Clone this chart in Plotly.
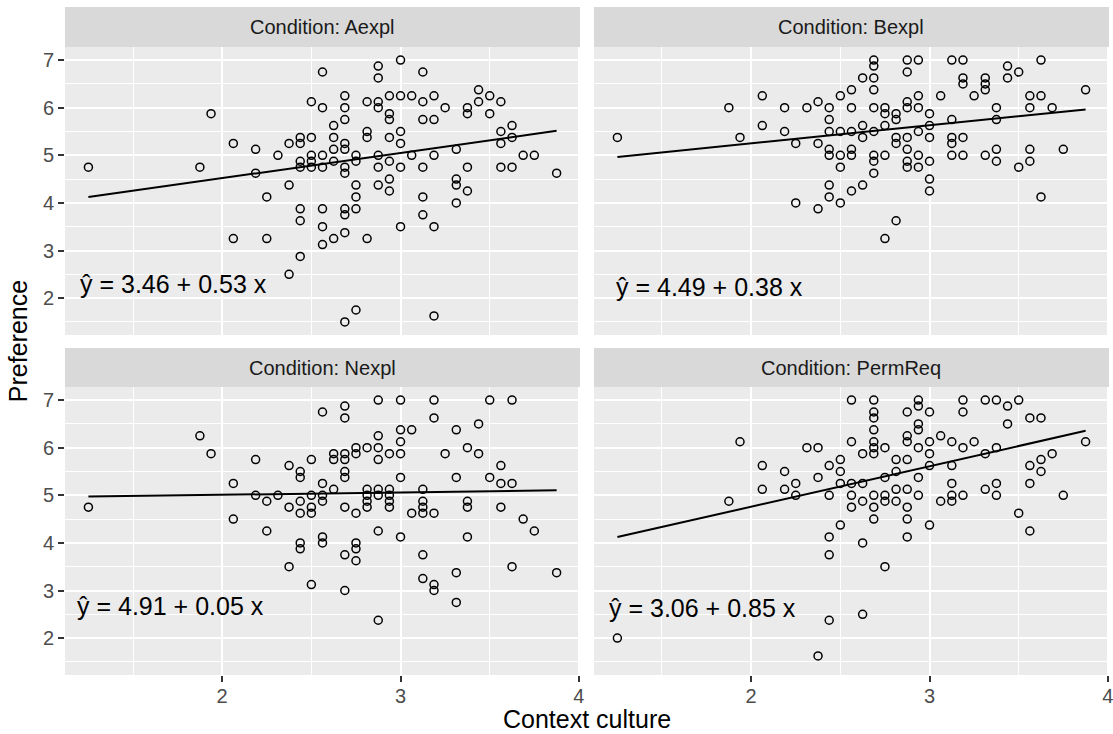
import numpy as np
import plotly.graph_objects as go

conditions = ["Aexpl", "Bexpl", "Nexpl", "PermReq"]
intercepts = [3.46, 4.49, 4.91, 3.06]
slopes = [0.53, 0.38, 0.05, 0.85]
x_ticks = [2, 3, 4]
y_ticks = [2, 3, 4, 5, 6, 7]

aexpl_x = [1.25, 1.875, 1.9375, 2.0625, 2.0625, 2.1875, 2.1875, 2.25, 2.25, 2.3125,
           2.375, 2.375, 2.375,
           2.4375, 2.4375, 2.4375, 2.4375, 2.4375, 2.4375, 2.4375,
           2.5, 2.5, 2.5, 2.5, 2.5,
           2.5625, 2.5625, 2.5625, 2.5625, 2.5625, 2.5625, 2.5625,
           2.625, 2.625, 2.625, 2.625, 2.625,
           2.6875, 2.6875, 2.6875, 2.6875, 2.6875, 2.6875, 2.6875, 2.6875, 2.6875, 2.6875, 2.6875,
           2.75, 2.75, 2.75, 2.75, 2.75, 2.75,
           2.8125, 2.8125, 2.8125, 2.8125,
           2.875, 2.875, 2.875, 2.875, 2.875, 2.875, 2.875,
           2.9375, 2.9375, 2.9375, 2.9375, 2.9375, 2.9375, 2.9375,
           3.0, 3.0, 3.0, 3.0, 3.0, 3.0,
           3.0625, 3.0625,
           3.125, 3.125, 3.125, 3.125, 3.125, 3.125,
           3.1875, 3.1875, 3.1875, 3.1875, 3.1875,
           3.25,
           3.3125, 3.3125, 3.3125, 3.3125,
           3.375, 3.375, 3.375, 3.375,
           3.4375, 3.4375,
           3.5, 3.5,
           3.5625, 3.5625, 3.5625, 3.5625,
           3.625, 3.625, 3.625,
           3.6875, 3.75, 3.875]
aexpl_y = [4.75, 4.75, 5.875, 5.25, 3.25, 5.125, 4.625, 4.125, 3.25, 5.0,
           5.25, 4.375, 2.5,
           5.375, 5.25, 4.875, 4.75, 3.875, 3.625, 2.875,
           6.125, 5.375, 5.0, 4.875, 4.75,
           6.75, 6.0, 5.0, 4.75, 3.875, 3.5, 3.125,
           5.625, 5.375, 5.125, 4.875, 3.25,
           6.25, 6.0, 5.75, 5.25, 5.125, 4.75, 4.625, 3.875, 3.75, 3.375, 1.5,
           5.0, 4.875, 4.375, 4.125, 3.875, 1.75,
           6.125, 5.5, 5.375, 3.25,
           6.875, 6.625, 6.125, 6.0, 5.0, 4.75, 4.375,
           6.25, 5.875, 5.75, 5.375, 4.875, 4.5, 4.25,
           7.0, 6.25, 5.5, 5.25, 4.75, 3.5,
           6.25, 5.0,
           6.75, 6.125, 5.75, 4.75, 4.125, 3.75,
           6.25, 5.75, 5.0, 3.5, 1.625,
           6.0,
           5.125, 4.5, 4.375, 4.0,
           6.0, 5.875, 4.75, 4.25,
           6.375, 6.125,
           6.25, 5.875,
           6.125, 5.5, 5.25, 4.75,
           5.625, 5.375, 4.75,
           5.0, 5.0, 4.625]

bexpl_x = [1.25, 1.875, 1.9375, 2.0625, 2.0625, 2.1875, 2.1875, 2.25, 2.25, 2.3125,
           2.375, 2.375, 2.375,
           2.4375, 2.4375, 2.4375, 2.4375, 2.4375, 2.4375, 2.4375,
           2.5, 2.5, 2.5, 2.5, 2.5,
           2.5625, 2.5625, 2.5625, 2.5625, 2.5625, 2.5625,
           2.625, 2.625, 2.625, 2.625,
           2.6875, 2.6875, 2.6875, 2.6875, 2.6875, 2.6875, 2.6875, 2.6875, 2.6875,
           2.75, 2.75, 2.75, 2.75, 2.75,
           2.8125, 2.8125, 2.8125, 2.8125, 2.8125,
           2.875, 2.875, 2.875, 2.875, 2.875, 2.875, 2.875, 2.875,
           2.9375, 2.9375, 2.9375, 2.9375, 2.9375, 2.9375,
           3.0, 3.0, 3.0, 3.0, 3.0, 3.0,
           3.0625,
           3.125, 3.125, 3.125, 3.125, 3.125,
           3.1875, 3.1875, 3.1875, 3.1875, 3.1875,
           3.25,
           3.3125, 3.3125, 3.3125, 3.3125,
           3.375, 3.375, 3.375, 3.375,
           3.4375, 3.4375,
           3.5, 3.5,
           3.5625, 3.5625, 3.5625, 3.5625,
           3.625, 3.625, 3.625,
           3.6875, 3.75, 3.875]
bexpl_y = [5.375, 6.0, 5.375, 6.25, 5.625, 6.0, 5.5, 5.25, 4.0, 6.0,
           6.125, 5.25, 3.875,
           6.0, 5.75, 5.5, 5.125, 5.0, 4.375, 4.125,
           6.25, 5.5, 5.0, 4.75, 4.0,
           6.375, 6.0, 5.5, 5.125, 5.0, 4.25,
           6.625, 5.625, 5.375, 4.375,
           7.0, 6.875, 6.625, 6.375, 6.0, 5.5, 5.0, 4.875, 4.625,
           6.0, 5.875, 5.625, 5.0, 3.25,
           5.875, 5.75, 5.375, 5.25, 3.625,
           7.0, 6.75, 6.125, 6.0, 5.375, 5.125, 4.875, 4.75,
           7.0, 6.25, 6.0, 5.5, 5.0, 4.75,
           5.875, 5.625, 5.375, 4.875, 4.5, 4.25,
           6.25,
           7.0, 5.75, 5.375, 5.25, 5.0,
           7.0, 6.625, 6.5, 5.375, 5.0,
           6.25,
           6.625, 6.5, 6.375, 5.0,
           6.0, 5.75, 5.125, 4.875,
           6.875, 6.625,
           6.75, 4.75,
           6.25, 6.0, 5.125, 4.875,
           7.0, 6.25, 4.125,
           6.0, 5.125, 6.375]

nexpl_x = [1.25, 1.875, 1.9375, 2.0625, 2.0625, 2.1875, 2.1875, 2.25, 2.25, 2.3125,
           2.375, 2.375, 2.375,
           2.4375, 2.4375, 2.4375, 2.4375, 2.4375, 2.4375,
           2.5, 2.5, 2.5, 2.5, 2.5,
           2.5625, 2.5625, 2.5625, 2.5625, 2.5625, 2.5625,
           2.625, 2.625, 2.625,
           2.6875, 2.6875, 2.6875, 2.6875, 2.6875, 2.6875, 2.6875, 2.6875, 2.6875,
           2.75, 2.75, 2.75, 2.75, 2.75, 2.75,
           2.8125, 2.8125, 2.8125, 2.8125, 2.8125,
           2.875, 2.875, 2.875, 2.875, 2.875, 2.875, 2.875, 2.875,
           2.9375, 2.9375, 2.9375, 2.9375, 2.9375,
           3.0, 3.0, 3.0, 3.0, 3.0, 3.0,
           3.0625, 3.0625,
           3.125, 3.125, 3.125, 3.125, 3.125, 3.125,
           3.1875, 3.1875, 3.1875, 3.1875, 3.1875,
           3.25,
           3.3125, 3.3125, 3.3125, 3.3125,
           3.375, 3.375, 3.375, 3.375,
           3.4375, 3.4375,
           3.5, 3.5,
           3.5625, 3.5625, 3.5625,
           3.625, 3.625, 3.625,
           3.6875, 3.75, 3.875]
nexpl_y = [4.75, 6.25, 5.875, 5.25, 4.5, 5.75, 5.0, 4.875, 4.25, 5.0,
           5.625, 4.75, 3.5,
           5.5, 5.375, 4.875, 4.625, 4.0, 3.875,
           5.75, 5.0, 4.75, 4.625, 3.125,
           6.75, 5.25, 5.0, 4.875, 4.125, 4.0,
           5.875, 5.75, 5.125,
           6.875, 6.625, 5.875, 5.75, 5.5, 5.375, 4.75, 3.75, 3.0,
           6.0, 5.875, 4.625, 4.0, 3.875, 3.625,
           6.0, 5.125, 5.0, 4.875, 4.75,
           7.0, 6.25, 6.0, 5.75, 5.125, 5.0, 4.25, 2.375,
           5.875, 5.125, 5.0, 4.875, 4.75,
           7.0, 6.375, 6.125, 5.875, 5.375, 4.125,
           6.375, 4.625,
           5.125, 4.875, 4.75, 4.625, 3.75, 3.25,
           7.0, 6.625, 4.625, 3.125, 3.0,
           5.875,
           6.375, 5.375, 3.375, 2.75,
           6.0, 4.875, 4.75, 4.125,
           6.5, 5.875,
           7.0, 5.375,
           5.625, 5.25, 4.75,
           7.0, 5.25, 3.5,
           4.5, 4.25, 3.375]

permreq_x = [1.25, 1.875, 1.9375, 2.0625, 2.0625, 2.1875, 2.1875, 2.25, 2.25, 2.3125,
             2.375, 2.375, 2.375,
             2.4375, 2.4375, 2.4375, 2.4375, 2.4375,
             2.5, 2.5, 2.5, 2.5,
             2.5625, 2.5625, 2.5625, 2.5625, 2.5625,
             2.625, 2.625, 2.625, 2.625, 2.625,
             2.6875, 2.6875, 2.6875, 2.6875, 2.6875, 2.6875, 2.6875, 2.6875, 2.6875, 2.6875,
             2.75, 2.75, 2.75, 2.75, 2.75,
             2.8125, 2.8125, 2.8125, 2.8125,
             2.875, 2.875, 2.875, 2.875, 2.875, 2.875, 2.875, 2.875,
             2.9375, 2.9375, 2.9375, 2.9375, 2.9375, 2.9375, 2.9375,
             3.0, 3.0, 3.0, 3.0, 3.0,
             3.0625, 3.0625,
             3.125, 3.125, 3.125, 3.125, 3.125,
             3.1875, 3.1875, 3.1875, 3.1875,
             3.25,
             3.3125, 3.3125, 3.3125,
             3.375, 3.375, 3.375, 3.375,
             3.4375, 3.4375,
             3.5, 3.5,
             3.5625, 3.5625, 3.5625, 3.5625,
             3.625, 3.625, 3.625,
             3.6875, 3.75, 3.875]
permreq_y = [2.0, 4.875, 6.125, 5.625, 5.125, 5.5, 5.125, 5.25, 5.0, 6.0,
             6.0, 5.375, 1.625,
             5.625, 5.0, 4.125, 3.75, 2.375,
             5.75, 5.5, 5.25, 4.375,
             7.0, 6.125, 5.25, 5.0, 4.75,
             5.875, 5.25, 4.875, 4.0, 2.5,
             7.0, 6.75, 6.625, 6.375, 6.125, 6.0, 5.875, 5.0, 4.75, 4.5,
             6.0, 5.375, 5.0, 4.875, 3.5,
             5.75, 5.5, 5.125, 4.875,
             6.75, 6.25, 6.125, 5.75, 5.125, 4.75, 4.5, 4.125,
             7.0, 6.875, 6.5, 6.375, 6.0, 5.375, 5.0,
             6.75, 6.125, 5.875, 5.625, 4.375,
             6.25, 4.875,
             6.125, 5.625, 5.25, 5.0, 4.875,
             7.0, 6.75, 6.0, 5.0,
             6.125,
             7.0, 5.875, 5.125,
             7.0, 6.0, 5.25, 5.0,
             6.875, 6.5,
             7.0, 4.625,
             6.625, 5.625, 5.25, 4.25,
             6.625, 5.75, 5.5,
             5.875, 5.0, 6.125]

# equation label positions (data units) per panel
label_x = [1.19, 1.232, 1.175, 1.189]
label_y = [2.29, 2.23, 2.67, 2.63]

xs = [aexpl_x, bexpl_x, nexpl_x, permreq_x]
ys = [aexpl_y, bexpl_y, nexpl_y, permreq_y]

# ggplot-like 5% expansion of shared scales
allx = np.concatenate([np.array(v) for v in xs])
ally = np.concatenate([np.array(v) for v in ys])
xr = [allx.min() - 0.05 * (allx.max() - allx.min()), allx.max() + 0.05 * (allx.max() - allx.min())]
yr = [ally.min() - 0.05 * (ally.max() - ally.min()), ally.max() + 0.05 * (ally.max() - ally.min())]

W, H = 1113, 734
ML, MR, MT, MB = 65, 0, 7, 59
PW, PH = W - ML - MR, H - MT - MB

def px_x(p):
    return (p - ML) / PW

def px_y(p):
    return 1 - (p - MT) / PH

x_domains = [[px_x(65), px_x(582)], [px_x(596), px_x(1113)]]
y_domains = [[px_y(335), px_y(47)], [px_y(675), px_y(387)]]
strip_y = [[px_y(47), px_y(7)], [px_y(387), px_y(348)]]

FONT = "Liberation Sans, Arial, Helvetica, sans-serif"

fig = go.Figure()
layout = dict(
    width=W, height=H, autosize=False,
    margin=dict(l=ML, r=MR, t=MT, b=MB, pad=0),
    paper_bgcolor="white", plot_bgcolor="#EBEBEB",
    showlegend=False,
    font=dict(family=FONT, color="#4D4D4D", size=20),
)
shapes = []
annotations = []

for i, cond in enumerate(conditions):
    row, col = i // 2, i % 2
    sfx = "" if i == 0 else str(i + 1)
    xa, ya = "x" + sfx, "y" + sfx
    x = np.array(xs[i])
    y = np.array(ys[i])
    fig.add_trace(go.Scatter(
        x=x, y=y, mode="markers", xaxis=xa, yaxis=ya,
        marker=dict(symbol="circle-open", size=8, color="black", line=dict(width=1.5, color="black")),
        hoverinfo="x+y",
    ))
    lx = np.array([x.min(), x.max()])
    fig.add_trace(go.Scatter(
        x=lx, y=intercepts[i] + slopes[i] * lx, mode="lines", xaxis=xa, yaxis=ya,
        line=dict(color="black", width=2), hoverinfo="skip",
    ))
    layout["xaxis" + sfx] = dict(
        domain=x_domains[col], anchor=ya, range=xr,
        tickmode="array", tickvals=x_ticks,
        showticklabels=(row == 1), ticks="outside" if row == 1 else "",
        ticklen=6, tickwidth=2, tickcolor="#333333",
        ticklabeloverflow="allow", ticklabelstandoff=-3,
        tickfont=dict(family=FONT, size=20, color="#4D4D4D"),
        showgrid=True, gridcolor="white", gridwidth=2,
        minor=dict(tickmode="array", tickvals=[1.5, 2.5, 3.5], showgrid=True, gridcolor="white", gridwidth=1, ticks=""),
        zeroline=False, showline=False,
    )
    layout["yaxis" + sfx] = dict(
        domain=y_domains[row], anchor=xa, range=yr,
        tickmode="array", tickvals=y_ticks,
        showticklabels=(col == 0), ticks="outside" if col == 0 else "",
        ticklen=6, tickwidth=2, tickcolor="#333333",
        tickfont=dict(family=FONT, size=20, color="#4D4D4D"),
        showgrid=True, gridcolor="white", gridwidth=2,
        minor=dict(tickmode="array", tickvals=[1.5, 2.5, 3.5, 4.5, 5.5, 6.5], showgrid=True, gridcolor="white", gridwidth=1, ticks=""),
        zeroline=False, showline=False,
    )
    shapes.append(dict(type="rect", xref="paper", yref="paper",
                       x0=x_domains[col][0], x1=x_domains[col][1],
                       y0=strip_y[row][0], y1=strip_y[row][1],
                       fillcolor="#D9D9D9", line=dict(width=0), layer="below"))
    annotations.append(dict(text="Condition: " + cond, xref="paper", yref="paper",
                            x=(x_domains[col][0] + x_domains[col][1]) / 2,
                            y=(strip_y[row][0] + strip_y[row][1]) / 2,
                            xanchor="center", yanchor="middle", showarrow=False,
                            font=dict(family=FONT, size=20, color="#1A1A1A")))
    annotations.append(dict(text=f"ŷ = {intercepts[i]:.2f} + {slopes[i]:.2f} x",
                            xref=xa, yref=ya, x=label_x[i], y=label_y[i],
                            xanchor="left", yanchor="middle", showarrow=False,
                            font=dict(family=FONT, size=25, color="black")))

annotations.append(dict(text="Context culture", xref="paper", yref="paper",
                        x=0.5, y=px_y(719), xanchor="center", yanchor="middle", showarrow=False,
                        height=26, valign="middle", borderpad=0,
                        font=dict(family=FONT, size=25, color="black")))
annotations.append(dict(text="Preference", xref="paper", yref="paper",
                        x=px_x(18), y=px_y(341), xanchor="center", yanchor="middle", showarrow=False,
                        textangle=-90, font=dict(family=FONT, size=25, color="black")))

layout["shapes"] = shapes
layout["annotations"] = annotations
fig.update_layout(**layout)

fig.write_html("out.html", config={"displayModeBar": False},
               post_script="document.body.style.margin='0';document.body.style.overflow='hidden';")
